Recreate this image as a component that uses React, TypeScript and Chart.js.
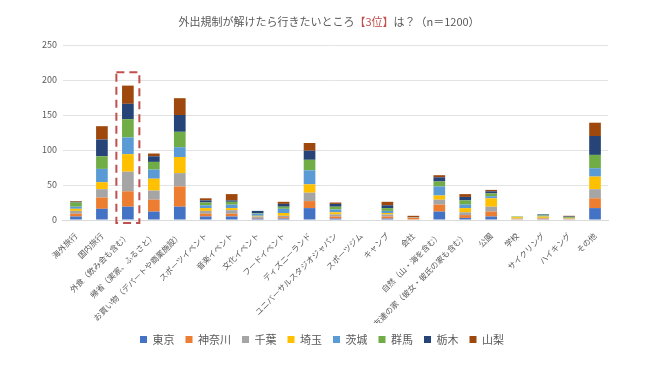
import React, { useEffect, useRef } from "react";
import { Chart, registerables } from "chart.js";

Chart.register(...registerables);

const categories = [
  "海外旅行",
  "国内旅行",
  "外食（飲み会も含む）",
  "帰省（実家、ふるさと）",
  "お買い物（デパートや商業施設）",
  "スポーツイベント",
  "音楽イベント",
  "文化イベント",
  "フードイベント",
  "ディズニーランド",
  "ユニバーサルスタジオジャパン",
  "スポーツジム",
  "キャンプ",
  "会社",
  "自然（山・海を含む）",
  "友達の家（彼女・彼氏の家も含む）",
  "公園",
  "学校",
  "サイクリング",
  "ハイキング",
  "その他",
];

const seriesNames = ["東京", "神奈川", "千葉", "埼玉", "茨城", "群馬", "栃木", "山梨"];
const seriesColors = ["#4472C4", "#ED7D31", "#A5A5A5", "#FFC000", "#5B9BD5", "#70AD47", "#264478", "#9E480E"];

const tokyo = [5, 16, 19, 12, 19, 5, 5, 2, 2, 17, 2, 0, 2, 0, 12, 3, 5, 0, 1, 0, 17];
const kanagawa = [4, 16, 22, 17, 29, 4, 4, 1, 2, 10, 3, 0, 3, 3, 10, 4, 7, 1, 1, 1, 14];
const chiba = [4, 12, 28, 13, 19, 4, 5, 2, 2, 12, 3, 0, 3, 1, 7, 4, 7, 1, 1, 1, 13];
const saitama = [3, 10, 25, 17, 23, 4, 3, 1, 4, 12, 3, 0, 2, 0, 6, 6, 12, 2, 2, 1, 18];
const ibaraki = [3, 19, 24, 13, 14, 4, 5, 3, 6, 20, 4, 0, 3, 0, 13, 5, 3, 0, 1, 0, 12];
const gunma = [6, 18, 26, 11, 22, 4, 4, 1, 3, 15, 4, 0, 4, 0, 7, 6, 4, 1, 1, 1, 19];
const tochigi = [1, 24, 22, 8, 24, 3, 2, 3, 4, 13, 4, 0, 4, 0, 6, 5, 3, 0, 1, 1, 27];
const yamanashi = [1, 19, 26, 4, 24, 3, 9, 0, 3, 11, 2, 0, 5, 2, 3, 4, 2, 0, 0, 1, 19];

const seriesValues = [tokyo, kanagawa, chiba, saitama, ibaraki, gunma, tochigi, yamanashi];

const titleParts = [
  { text: "外出規制が解けたら行きたいところ", color: "#595959" },
  { text: "【3位】", color: "#C0504D" },
  { text: "は？（n＝1200）", color: "#595959" },
];

const highlightIndex = 2;
const highlightTop = 211;

const FONT = "'Noto Sans CJK JP', 'Noto Sans', sans-serif";

const titlePlugin = {
  id: "mixedTitle",
  afterDraw(chart: any) {
    const ctx = chart.ctx;
    ctx.save();
    ctx.font = `11px ${FONT}`;
    ctx.textBaseline = "middle";
    const widths = titleParts.map((p) => ctx.measureText(p.text).width);
    const total = widths.reduce((a, b) => a + b, 0);
    let x = 329 - total / 2;
    titleParts.forEach((p, i) => {
      ctx.fillStyle = p.color;
      ctx.fillText(p.text, x, 22);
      x += widths[i];
    });
    ctx.restore();
  },
};

const boxPlugin = {
  id: "highlightBox",
  afterDatasetsDraw(chart: any) {
    const xs = chart.scales.x;
    const ys = chart.scales.y;
    const cx = xs.getPixelForValue(highlightIndex);
    const left = cx - 11.5;
    const right = cx + 11.5;
    const top = ys.getPixelForValue(highlightTop);
    const bottom = ys.getPixelForValue(0) + 3;
    const ctx = chart.ctx;
    ctx.save();
    ctx.strokeStyle = "#C0504D";
    ctx.lineWidth = 2;
    ctx.setLineDash([8, 5]);
    ctx.strokeRect(left, top, right - left, bottom - top);
    ctx.restore();
  },
};

export default function App() {
  const ref = useRef<HTMLCanvasElement | null>(null);
  useEffect(() => {
    if (!ref.current) return;
    const chart = new Chart(ref.current, {
      type: "bar",
      data: {
        labels: categories,
        datasets: seriesNames.map((name, i) => ({
          label: name,
          data: seriesValues[i],
          backgroundColor: seriesColors[i],
          borderWidth: 0,
          barPercentage: 0.9,
          categoryPercentage: 0.5,
        })),
      },
      options: {
        responsive: false,
        animation: false,
        layout: { padding: { top: 45, left: 36, right: 42, bottom: 10 } },
        plugins: {
          legend: {
            position: "bottom",
            labels: {
              boxWidth: 7,
              boxHeight: 7,
              padding: 11,
              color: "#595959",
              font: { family: FONT, size: 11 },
            },
          },
          title: { display: false },
          tooltip: { enabled: false },
        },
        scales: {
          x: {
            stacked: true,
            grid: { display: false },
            border: { color: "#D9D9D9" },
            afterFit(scale: any) {
              scale.height = 103;
            },
            ticks: {
              minRotation: 45,
              maxRotation: 45,
              autoSkip: false,
              color: "#595959",
              font: { family: FONT, size: 8 },
            },
          },
          y: {
            stacked: true,
            min: 0,
            max: 250,
            ticks: { stepSize: 50, color: "#595959", font: { family: FONT, size: 9 }, padding: 6 },
            grid: { color: "#E3E3E3", drawTicks: false },
            border: { display: false },
          },
        },
      },
      plugins: [titlePlugin, boxPlugin],
    });
    return () => chart.destroy();
  }, []);
  return (
    <div style={{ position: "fixed", left: 0, top: 0, width: 650, height: 365, background: "#fff" }}>
      <canvas ref={ref} width={650} height={365} />
    </div>
  );
}
